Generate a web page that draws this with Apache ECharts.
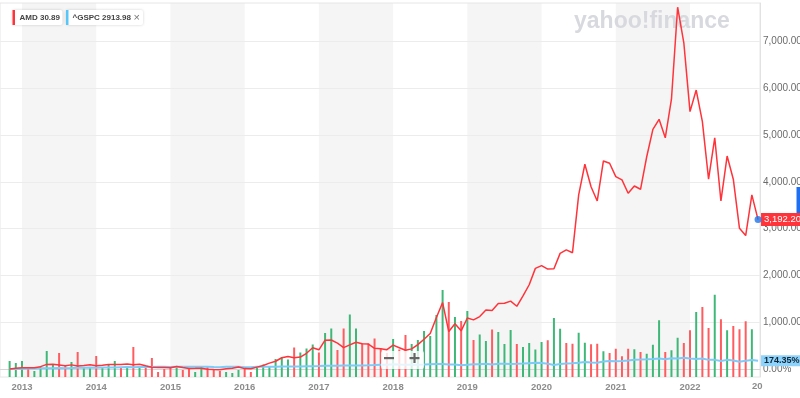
<!DOCTYPE html>
<html>
<head>
<meta charset="utf-8">
<script src="https://cdn.jsdelivr.net/npm/echarts@6/dist/echarts.min.js"></script>
<style>
  html, body { margin: 0; padding: 0; background: #fff; }
  #chart { width: 800px; height: 398px; }
</style>
</head>
<body>
<div id="chart"></div>
<script>
// monthly points, Nov 2012 .. Dec 2022
const startYear = 2012;
const startMonth = 10; // 0-based, November

// AMD, % change since first point
const amdPct = [
  0, 15,
  27, 24, 25, 50, 98, 100, 85, 70, 88, 64, 76, 90,                 // 2013
  68, 82, 97, 98, 96, 105, 92, 103, 68, 36, 34, 30,                // 2014
  26, 55, 32, 12, 14, 18, -5, -12, -15, 4, 16, 41,                 // 2015
  8, 5, 40, 75, 125, 165, 240, 265, 242, 255, 335, 455,            // 2016
  410, 615, 620, 552, 456, 515, 572, 538, 532, 442, 435, 412,      // 2017
  510, 455, 400, 430, 520, 635, 760, 1100, 1420, 800, 965, 815,    // 2018
  1090, 1050, 1120, 1260, 1250, 1400, 1405, 1450, 1340, 1560, 1800, 2150, // 2019
  2210, 2135, 2140, 2470, 2545, 2485, 3720, 4375, 3895, 3590, 4445, 4395, // 2020
  4110, 4040, 3755, 3910, 3840, 4535, 5120, 5335, 4940, 5765, 7730, 6970, // 2021
  5500, 5960, 5285, 4055, 4940, 3590, 4550, 4055, 3005, 2850, 3720, 3192.2 // 2022
];

// ^GSPC, % change since first point
const gspcPct = [
  0, 1.9,
  7.0, 8.3, 12.1, 14.2, 16.5, 14.8, 20.5, 16.7, 20.2, 25.5, 29.0, 32.0,
  27.4, 32.8, 33.8, 34.6, 37.5, 40.1, 38.0, 43.1, 40.9, 44.2, 47.8, 47.1,
  42.6, 50.4, 47.8, 49.1, 50.6, 47.4, 50.3, 40.9, 37.2, 48.6, 48.6, 46.0,
  38.6, 38.1, 47.2, 47.6, 49.8, 50.0, 55.3, 55.1, 54.9, 51.9, 57.1, 60.0,
  62.8, 68.9, 68.8, 70.3, 72.3, 73.1, 76.5, 76.6, 80.0, 84.0, 89.2, 91.1,
  101.8, 93.9, 88.7, 89.2, 93.3, 94.2, 101.2, 107.4, 108.2, 93.8, 97.2, 79.1,
  93.2, 98.9, 102.5, 110.5, 96.6, 110.2, 112.9, 109.1, 112.7, 117.1, 124.4, 130.9,
  130.5, 111.1, 84.7, 108.1, 117.5, 121.5, 133.7, 150.1, 140.3, 133.7, 158.8, 168.4,
  165.4, 172.3, 183.9, 198.7, 200.4, 207.1, 214.0, 223.2, 207.8, 229.0, 226.3, 240.6,
  222.7, 212.5, 223.7, 195.2, 195.2, 170.5, 195.1, 182.6, 156.2, 176.7, 191.5, 174.35
];

// AMD monthly volume (millions of shares)
const volume = [
  640, 560,
  640, 320, 240, 440, 1040, 480, 960, 440, 600, 1000, 360, 360,
  840, 360, 480, 640, 360, 440, 1200, 440, 360, 760, 200, 320,
  440, 360, 280, 320, 200, 400, 400, 280, 240, 200, 160, 280,
  320, 200, 360, 500, 400, 720, 780, 700, 1180, 980, 1140, 1300,
  980, 1760, 1940, 1080, 1940, 2500, 1940, 1340, 1340, 1540, 1140, 960,
  1520, 1100, 1680, 1320, 1480, 1840, 1640, 2480, 3480, 3000, 2400, 2240,
  2640, 1480, 1700, 1440, 1900, 1800, 1320, 1880, 1320, 1200, 1360, 1100,
  1400, 1470, 2360, 1930, 1360, 1330, 1770, 1370, 1310, 1330, 1030, 960,
  1130, 830, 1130, 1110, 1000, 930, 1290, 2270, 1000, 1070, 1570, 1360,
  1870, 2600, 2800, 1960, 3290, 2310, 1870, 2040, 1910, 2230, 1910, null
];

// 1 = up month, 0 = down month
const volumeUp = [
  1, 1,
  1, 0, 1, 1, 1, 1, 0, 0, 1, 0, 1, 1,
  0, 1, 1, 1, 0, 1, 0, 1, 0, 0, 0, 0,
  0, 1, 0, 0, 1, 1, 0, 0, 0, 1, 1, 1,
  0, 0, 1, 1, 1, 1, 1, 1, 0, 1, 1, 1,
  0, 1, 1, 0, 0, 1, 1, 0, 0, 0, 0, 0,
  1, 0, 0, 1, 1, 1, 1, 1, 1, 0, 1, 0,
  1, 0, 1, 1, 0, 1, 1, 1, 0, 1, 1, 1,
  1, 0, 1, 1, 0, 0, 1, 1, 0, 0, 1, 0,
  0, 0, 0, 1, 0, 1, 1, 1, 0, 1, 1, 0,
  0, 1, 0, 0, 1, 0, 1, 0, 0, 0, 1, 1
];

const yearTicks = [2013, 2014, 2015, 2016, 2017, 2018, 2019, 2020, 2021, 2022];
const shadedYears = [2013, 2015, 2017, 2019, 2021];
const pctTicks = [0, 1000, 2000, 3000, 4000, 5000, 6000, 7000];

const RED = '#ff333a';
const BLUE = '#7ccbf8';
const UP = '#3fb877';
const DOWN = '#ff5c60';
const FONT = '"Liberation Sans", Arial, sans-serif';

const monthX = amdPct.map((_, i) => startYear + (startMonth + i) / 12);
const fmtPct = v => v.toLocaleString('en-US', { minimumFractionDigits: 2, maximumFractionDigits: 2 }) + '%';

const chart = echarts.init(document.getElementById('chart'));

chart.setOption({
  animation: false,
  textStyle: { fontFamily: FONT },
  grid: {
    left: 0, right: 40, top: 3, bottom: 21,
    outerBoundsMode: 'none',
    show: true, borderColor: '#e6e6e6', borderWidth: 1
  },
  xAxis: {
    type: 'value',
    min: 2012.7036,
    max: 2022.943,
    axisLine: { show: true, lineStyle: { color: '#d6d6d6' } },
    axisTick: { show: true, length: 3, customValues: yearTicks, lineStyle: { color: '#d6d6d6' } },
    axisLabel: {
      customValues: yearTicks,
      formatter: v => String(Math.round(v)),
      color: '#8c8c8c', fontSize: 9.5, fontWeight: 'bold', margin: 5
    },
    splitLine: { show: false }
  },
  yAxis: [
    {
      type: 'value',
      position: 'right',
      min: -171,
      max: 7820,
      axisLine: { show: true, lineStyle: { color: '#e2e2e2' } },
      axisTick: { show: false, customValues: pctTicks },
      axisLabel: { customValues: pctTicks, formatter: fmtPct, color: '#6b6b6b', fontSize: 10, margin: 3 },
      splitLine: { show: true, lineStyle: { color: '#ececec' } }
    },
    { type: 'value', min: 0, max: 14960, show: false }
  ],
  series: [
    {
      // alternate year shading
      type: 'line',
      data: [],
      z: -1,
      markArea: {
        silent: true,
        z: -1,
        itemStyle: { color: '#f5f5f5' },
        data: shadedYears.map(y => [{ xAxis: y }, { xAxis: y + 1 }])
      }
    },
    {
      name: 'Volume',
      type: 'bar',
      yAxisIndex: 1,
      barWidth: 2,
      z: 2,
      data: volume.map((v, i) => v == null ? null : {
        value: [monthX[i], v],
        itemStyle: { color: volumeUp[i] ? UP : DOWN }
      })
    },
    {
      name: '^GSPC',
      type: 'line',
      z: 3,
      symbol: 'none',
      lineStyle: { color: BLUE, width: 2 },
      data: gspcPct.map((v, i) => [monthX[i], v]),
      endLabel: {
        show: true,
        formatter: p => fmtPct(p.value[1]),
        distance: 3,
        fontSize: 9,
        fontWeight: 'bold',
        color: '#0e2433',
        backgroundColor: '#8ed3fb',
        padding: [1, 3, 1, 3]
      }
    },
    {
      name: 'AMD',
      type: 'line',
      z: 4,
      symbol: 'none',
      lineStyle: { color: RED, width: 1.5 },
      data: amdPct.map((v, i) => [monthX[i], v]),
      endLabel: {
        show: true,
        formatter: p => fmtPct(p.value[1]),
        distance: 3,
        fontSize: 9.5,
        color: '#fff',
        backgroundColor: RED,
        padding: [2, 3, 1, 3]
      }
    },
    {
      type: 'scatter',
      z: 5,
      symbolSize: 7,
      itemStyle: { color: '#1f74ea' },
      data: [[monthX[monthX.length - 1], amdPct[amdPct.length - 1]]]
    }
  ],
  graphic: [
    {
      type: 'text', x: 574, y: 22, z: 1,
      style: { text: 'yahoo!finance', font: 'bold 23px ' + FONT, fill: '#d8d9de', verticalAlign: 'middle' }
    },
    // legend chips
    { type: 'rect', z: 20, shape: { x: 12.5, y: 10, width: 50, height: 15, r: 2 },
      style: { fill: '#fff', shadowBlur: 3, shadowColor: 'rgba(0,0,0,0.18)' } },
    { type: 'rect', z: 21, shape: { x: 12.5, y: 10, width: 2.5, height: 15 }, style: { fill: RED } },
    { type: 'text', z: 21, x: 19.5, y: 18, style: { text: 'AMD 30.89', font: 'bold 8px ' + FONT, fill: '#444', verticalAlign: 'middle' } },
    { type: 'rect', z: 20, shape: { x: 66, y: 10, width: 77, height: 15, r: 2 },
      style: { fill: '#fff', shadowBlur: 3, shadowColor: 'rgba(0,0,0,0.18)' } },
    { type: 'rect', z: 21, shape: { x: 66, y: 10, width: 2.5, height: 15 }, style: { fill: '#56c5f8' } },
    { type: 'text', z: 21, x: 72.5, y: 18, style: { text: '^GSPC 2913.98', font: 'bold 8px ' + FONT, fill: '#444', verticalAlign: 'middle' } },
    { type: 'text', z: 21, x: 133.5, y: 18, style: { text: '×', font: '11px ' + FONT, fill: '#777', verticalAlign: 'middle' } },
    // zoom controls
    { type: 'rect', z: 20, shape: { x: 381, y: 351, width: 43, height: 18, r: 2 }, style: { fill: 'rgba(255,255,255,0.8)' } },
    { type: 'rect', z: 21, shape: { x: 384, y: 357, width: 10, height: 2.2 }, style: { fill: '#666' } },
    { type: 'rect', z: 21, shape: { x: 409.5, y: 357, width: 10, height: 2.2 }, style: { fill: '#666' } },
    { type: 'rect', z: 21, shape: { x: 413.4, y: 353, width: 2.2, height: 10 }, style: { fill: '#666' } },
    // clipped marker at right edge
    { type: 'rect', z: 21, shape: { x: 796.5, y: 187, width: 4, height: 26 }, style: { fill: '#1f6ff2' } },
    { type: 'text', z: 21, x: 752, y: 386, style: { text: '20', font: 'bold 9.5px ' + FONT, fill: '#8c8c8c', verticalAlign: 'middle' } }
  ]
});
</script>
</body>
</html>
